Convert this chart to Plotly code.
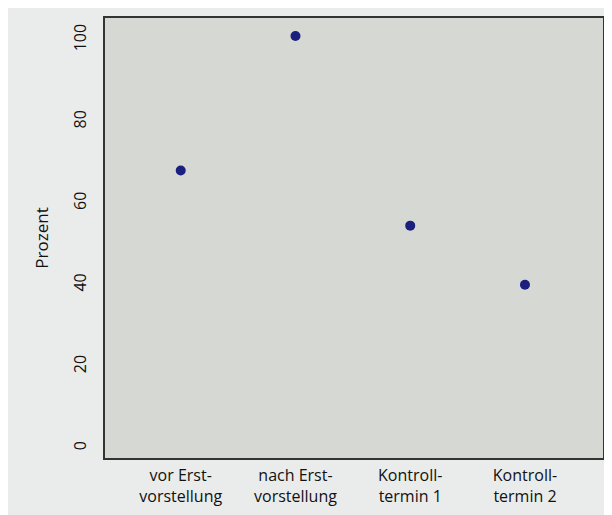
import plotly.graph_objects as go

categories = ["vor Erst-<br>vorstellung", "nach Erst-<br>vorstellung", "Kontroll-<br>termin 1", "Kontroll-<br>termin 2"]
prozent = [68, 101, 54.5, 40]
y_ticks = [0, 20, 40, 60, 80, 100]

fig = go.Figure()
fig.add_trace(go.Scatter(
    x=list(range(len(categories))), y=prozent, mode="markers",
    marker=dict(color="#1b1f7e", size=10),
    showlegend=False,
))

family = "Open Sans, Lato, sans-serif"
font = dict(family=family, size=16, color="#111111")
fig.update_layout(
    width=604, height=507,
    margin=dict(l=97, r=7, t=10, b=57),
    paper_bgcolor="#eaecec",
    plot_bgcolor="#d6d8d3",
    font=font,
    xaxis=dict(
        range=[-0.66, 3.68],
        tickvals=list(range(len(categories))), ticktext=categories,
        showgrid=False, zeroline=False,
        showline=True, mirror=True, linecolor="#333333", linewidth=1.5,
        ticks="", ticklabelstandoff=2,
    ),
    yaxis=dict(
        range=[-2.45, 105.4],
        tickvals=y_ticks, tickangle=-90,
        showgrid=False, zeroline=False,
        showline=True, mirror=True, linecolor="#333333", linewidth=1.5,
        ticks="", ticklabelstandoff=11,
        title=dict(text="Prozent", standoff=16,
                   font=dict(family=family, size=17, color="#111111")),
    ),
)

fig.write_html("out.html")
